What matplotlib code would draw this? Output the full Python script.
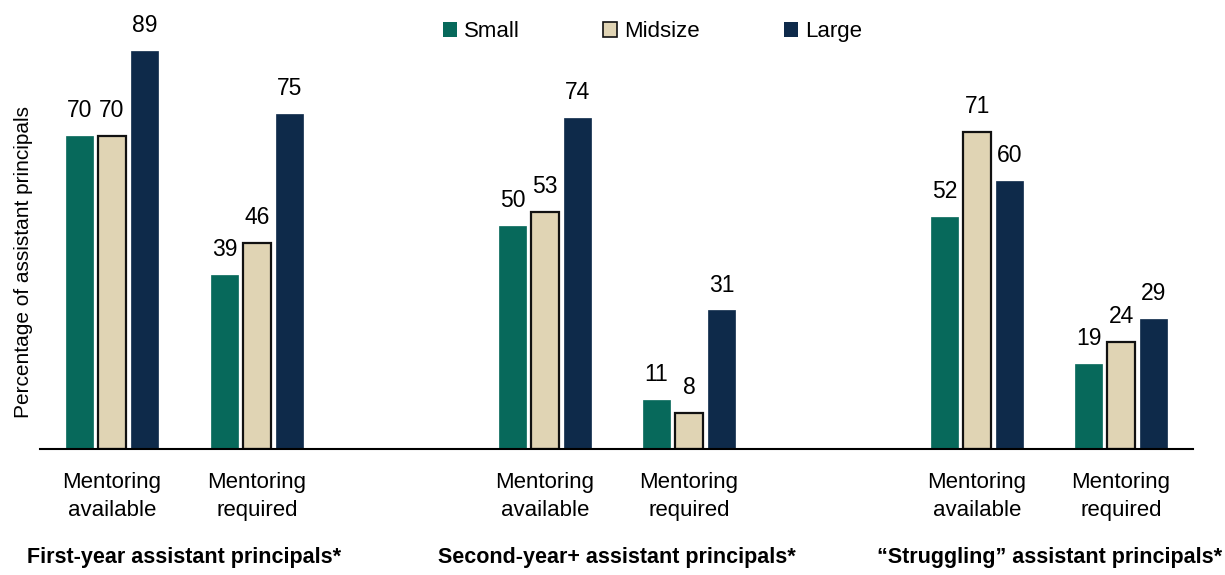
import matplotlib

matplotlib.use("Agg")
import matplotlib.pyplot as plt
from matplotlib.patches import Patch
import numpy as np

plt.rcParams["font.family"] = ["Liberation Sans", "DejaVu Sans"]

# data
series = ["Small", "Midsize", "Large"]
categories = ["Mentoring\navailable", "Mentoring\nrequired"] * 3
sections = ["First-year assistant principals*",
            "Second-year+ assistant principals*",
            "\u201cStruggling\u201d assistant principals*"]
small = [70, 39, 50, 11, 52, 19]
midsize = [70, 46, 53, 8, 71, 24]
large = [89, 75, 74, 31, 60, 29]

colors = ["#07695B", "#E0D4B4", "#0E2A4A"]
edges = ["#07695B", "#111111", "#0E2A4A"]

# group centres (units of ~145 px)
centers = np.array([0, 1, 2.986, 3.979, 5.966, 6.959])
pitch = 0.224
width = 0.188

fig = plt.figure(figsize=(12.25, 5.75), dpi=100)
ax = fig.add_axes([40 / 1225, 126 / 575, 1153 / 1225, 447 / 575])

for i, (vals, col, ec) in enumerate(zip([small, midsize, large], colors, edges)):
    xs = centers + (i - 1) * pitch
    lw = 1.6 if i == 1 else 0.5
    ax.bar(xs, vals, width=width, color=col, edgecolor=ec, linewidth=lw, zorder=2)
    for x, v in zip(xs, vals):
        ax.annotate(str(v), (x, v), xytext=(0, 10), textcoords="offset points",
                    ha="center", va="bottom", fontsize=16.5)

ax.set_xlim(-0.497, 7.455)
ax.set_ylim(0, 100)
for s in ["top", "right", "left"]:
    ax.spines[s].set_visible(False)
ax.spines["bottom"].set_linewidth(1.5)
ax.set_yticks([])
ax.set_xticks(centers)
ax.set_xticklabels(categories, fontsize=16, linespacing=1.45)
ax.tick_params(axis="x", length=0, pad=16.5)

ax.set_ylabel("Percentage of assistant principals", fontsize=15)
ax.yaxis.set_label_coords(-0.006, 0.418)

# section titles
for k, title in enumerate(sections):
    xc = (centers[2 * k] + centers[2 * k + 1]) / 2
    ax.text(xc, -0.242, title, transform=ax.get_xaxis_transform(),
            ha="center", va="center", fontsize=15.5, fontweight="bold")

# legend, one entry at a time
legend_x = [443 / 1225, 603 / 1225, 784 / 1225]
for name, col, ec, lx in zip(series, colors, edges, legend_x):
    h = Patch(facecolor=col, edgecolor=ec, linewidth=1.2 if name == "Midsize" else 0)
    fig.legend(handles=[h], labels=[name], loc="center left",
               bbox_to_anchor=(lx, 0.945), frameon=False, fontsize=16,
               handlelength=0.63, handleheight=0.63, handletextpad=0.3,
               borderpad=0, borderaxespad=0)

fig.savefig("out.png", dpi=100)
